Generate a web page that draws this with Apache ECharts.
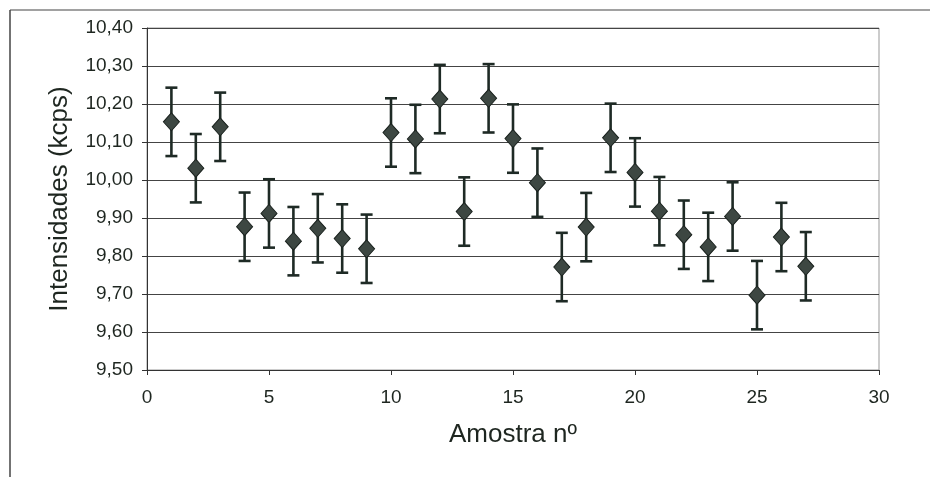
<!DOCTYPE html>
<html>
<head>
<meta charset="utf-8">
<script src="https://cdn.jsdelivr.net/npm/echarts@6/dist/echarts.min.js"></script>
<style>
html,body{margin:0;padding:0;background:#fff;}
#chart{width:930px;height:477px;}
</style>
</head>
<body>
<div id="chart"></div>
<script>
// Sample numbers (Amostra nº)
var samples = [1,2,3,4,5,6,7,8,9,10,11,12,13,14,15,16,17,18,19,20,21,22,23,24,25,26,27];
// Intensities (kcps)
var intensities = [10.153,10.031,10.140,9.877,9.912,9.839,9.873,9.846,9.819,10.125,10.108,10.213,9.917,10.215,10.109,9.993,9.771,9.876,10.111,10.020,9.918,9.856,9.824,9.904,9.697,9.850,9.773];
// Error (± kcps)
var errors = [0.09,0.09,0.09,0.09,0.09,0.09,0.09,0.09,0.09,0.09,0.09,0.09,0.09,0.09,0.09,0.09,0.09,0.09,0.09,0.09,0.09,0.09,0.09,0.09,0.09,0.09,0.09];
var yTicks = ['9,50','9,60','9,70','9,80','9,90','10,00','10,10','10,20','10,30','10,40'];
var xName = 'Amostra nº';
var yName = 'Intensidades (kcps)';

var points = samples.map(function(s,i){return [s, intensities[i]];});
var bars = samples.map(function(s,i){return [s, intensities[i]-errors[i], intensities[i]+errors[i]];});

var chart = echarts.init(document.getElementById('chart'), null, {renderer:'canvas'});
var font = '"Liberation Sans", Arial, sans-serif';
chart.setOption({
  animation:false,
  backgroundColor:'#fff',
  graphic:[
    {type:'line', shape:{x1:10,y1:10,x2:930,y2:10}, style:{stroke:'#444',lineWidth:1.2}},
    {type:'line', shape:{x1:10,y1:10,x2:10,y2:477}, style:{stroke:'#444',lineWidth:1.5}}
  ],
  grid:{left:147,right:51,top:28,bottom:107,show:true,borderColor:'#999',borderWidth:1},
  xAxis:{
    type:'value',min:0,max:30,interval:5,
    name:xName,nameLocation:'middle',nameGap:52,
    nameTextStyle:{fontFamily:font,fontSize:26,color:'#1e2620'},
    axisLine:{show:true,lineStyle:{color:'#333',width:1}},
    axisTick:{show:true,inside:false,length:5,lineStyle:{color:'#333'}},
    axisLabel:{fontFamily:font,fontSize:19,color:'#1e2620',margin:18},
    splitLine:{show:false}
  },
  yAxis:{
    type:'value',min:9.5,max:10.4,interval:0.1,
    name:yName,nameLocation:'middle',nameGap:74,
    nameTextStyle:{fontFamily:font,fontSize:26,color:'#1e2620'},
    axisLine:{show:true,lineStyle:{color:'#333',width:1}},
    axisTick:{show:true,inside:false,length:5,lineStyle:{color:'#333'}},
    axisLabel:{fontFamily:font,fontSize:19,color:'#1e2620',margin:14,
      formatter:function(v){var idx=Math.round((v-9.5)/0.1);return yTicks[idx]!==undefined?yTicks[idx]:v.toFixed(2).replace('.',',');}},
    splitLine:{show:true,lineStyle:{color:'#444',width:1.2}}
  },
  series:[
    {
      type:'custom',
      data:bars,
      encode:{x:0,y:[1,2]},
      renderItem:function(params,api){
        var x=api.value(0);
        var lo=api.coord([x,api.value(1)]);
        var hi=api.coord([x,api.value(2)]);
        var hw=6;
        var st={stroke:'#1e2a25',lineWidth:2.6};
        return {type:'group',children:[
          {type:'line',shape:{x1:lo[0],y1:lo[1],x2:hi[0],y2:hi[1]},style:st},
          {type:'line',shape:{x1:lo[0]-hw,y1:lo[1],x2:lo[0]+hw,y2:lo[1]},style:st},
          {type:'line',shape:{x1:hi[0]-hw,y1:hi[1],x2:hi[0]+hw,y2:hi[1]},style:st}
        ]};
      },
      z:2
    },
    {
      type:'scatter',
      data:points,
      symbol:'diamond',
      symbolSize:[16,18],
      itemStyle:{color:'#3d4742',borderColor:'#1a221e',borderWidth:1,opacity:1},
      z:3
    }
  ]
});
</script>
</body>
</html>
